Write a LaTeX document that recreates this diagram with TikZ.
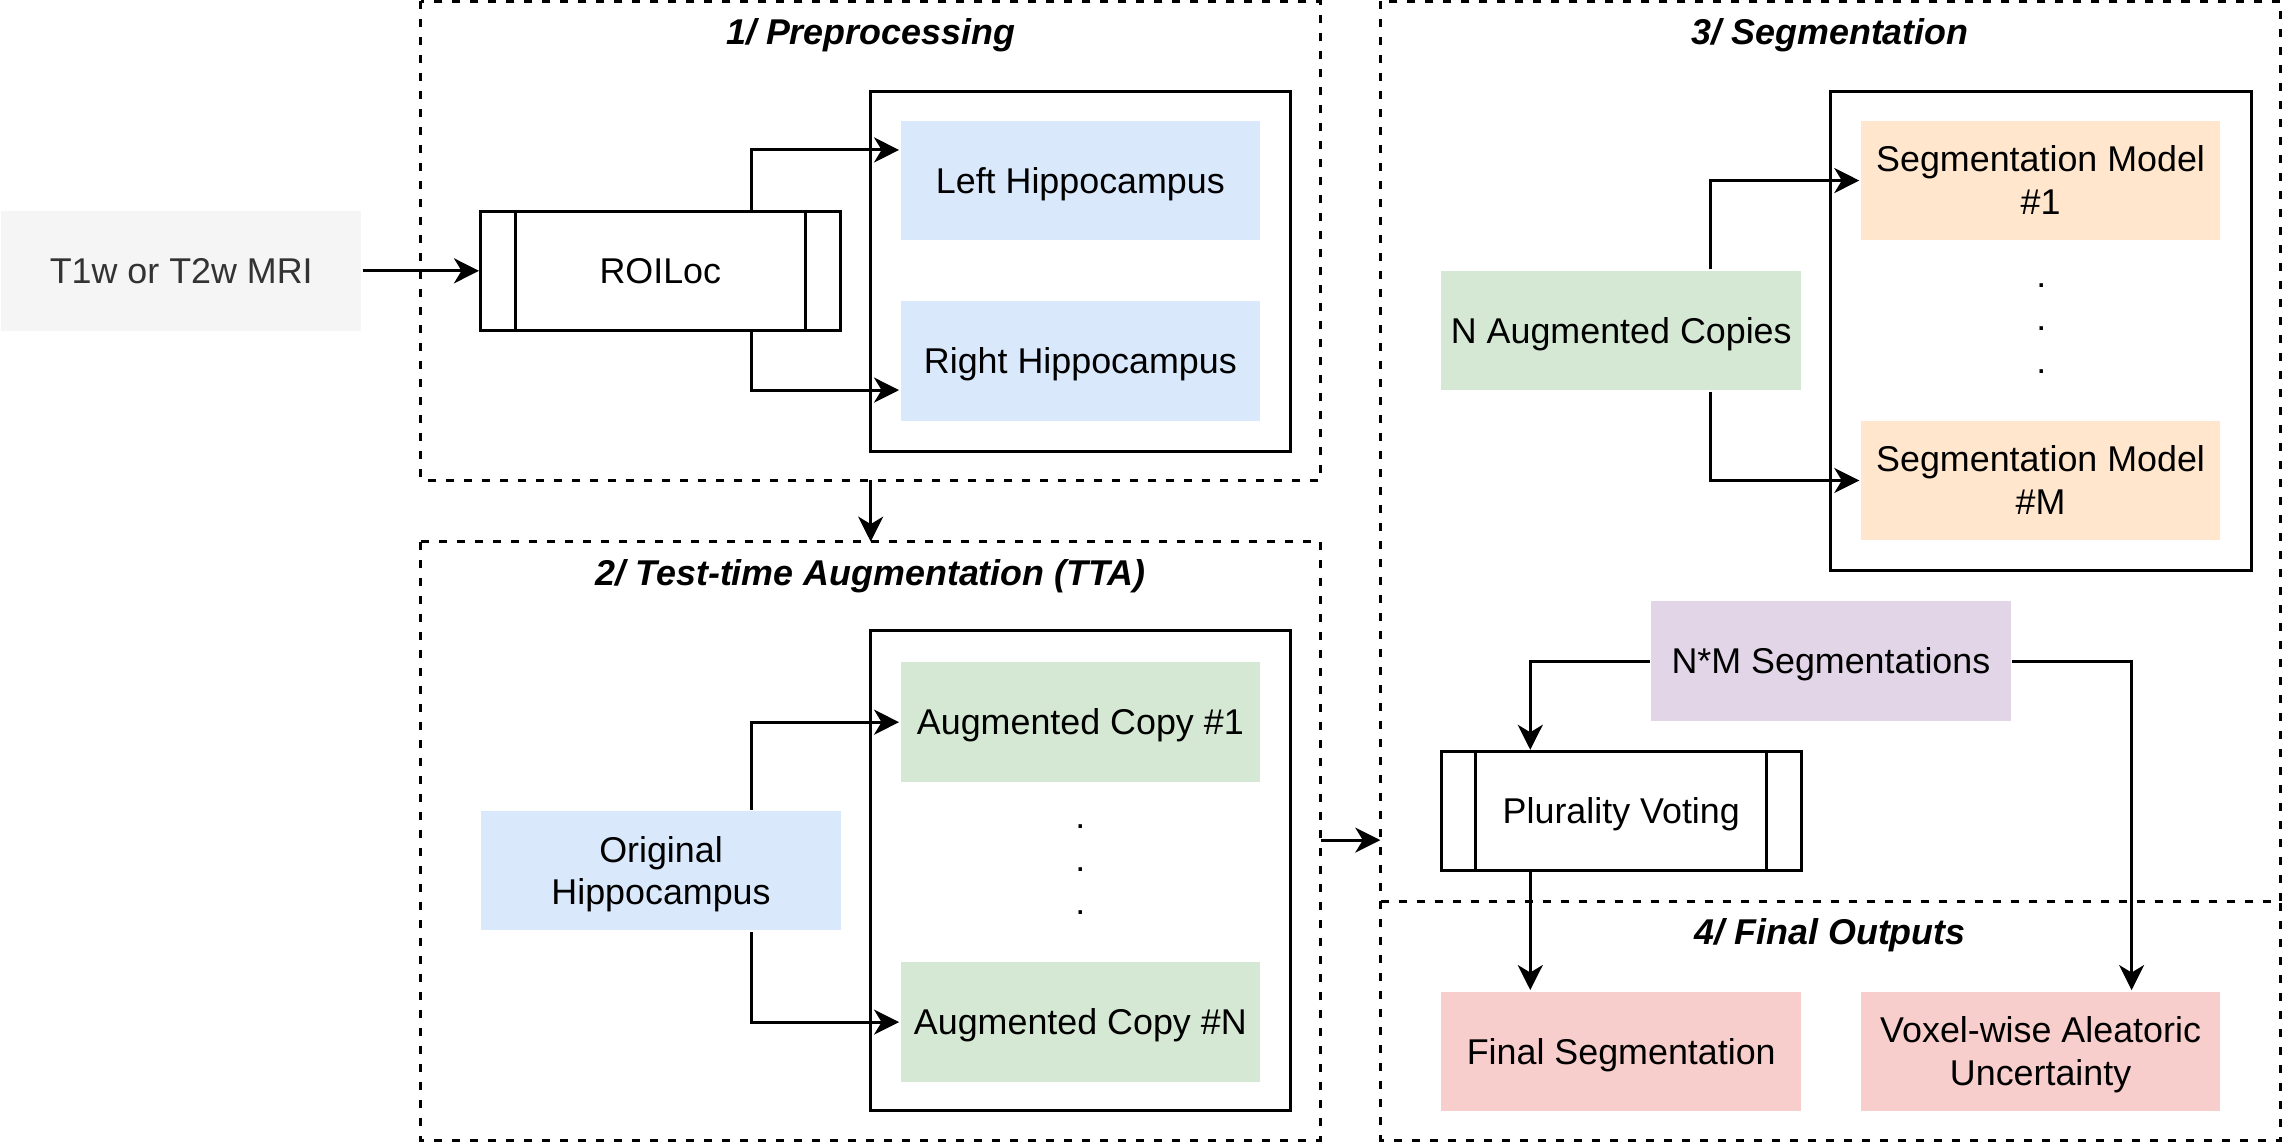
\documentclass[tikz,border=0pt]{standalone}
\usepackage{fontspec}
\setmainfont{Liberation Sans}
\usetikzlibrary{arrows.meta,calc}
\definecolor{cgray}{HTML}{F5F5F5}
\definecolor{cgtext}{HTML}{333333}
\definecolor{cblue}{HTML}{DAE8FC}
\definecolor{cgreen}{HTML}{D5E8D4}
\definecolor{corange}{HTML}{FFE6CC}
\definecolor{cpurple}{HTML}{E1D5E7}
\definecolor{cred}{HTML}{F8CECC}
\newcommand{\boxtext}[1]{\raisebox{-1.2pt}[\height][\depth]{\renewcommand{\arraystretch}{1}\begin{tabular}{@{}c@{}}#1\end{tabular}}}
\begin{document}
\begin{tikzpicture}[x=0.1456mm,y=-0.1456mm,
  line width=0.85pt,
  every node/.style={font=\fontsize{10.2pt}{12.2pt}\selectfont},
  box/.style={rectangle,minimum width=35.96mm,minimum height=11.94mm,inner sep=0pt},
  procbox/.style={box,draw=black},
  title/.style={inner sep=0pt,font=\fontsize{10.2pt}{12.2pt}\selectfont\bfseries\itshape},
  group/.style={draw=black,dash pattern=on 0.8mm off 1.0mm},
  inner/.style={draw=black},
  arr/.style={-{Stealth[length=2.5mm,width=2.5mm,inset=0.75mm]}},
  dots/.style={inner sep=0pt}
]
\useasboundingbox (0,0) rectangle (1568,785);

% groups
\draw[group] (289,1) rectangle (907,330);
\coordinate (p1) at (598,330);
\draw[group] (289,372) rectangle (907,783);
\coordinate (p2n) at (598,372);
\coordinate (p2e) at (907,577);
\draw[group] (948,1) rectangle (1566,619);
\coordinate (p3w) at (948,577);
\draw[group] (948,619) rectangle (1566,783);

\node[title] (t1) at (598,22) {\boxtext{1/ Preprocessing}};
\node[title] (t2) at (598,393) {\boxtext{2/ Test-time Augmentation (TTA)}};
\node[title] (t3) at (1257,22) {\boxtext{3/ Segmentation}};
\node[title] (t4) at (1257,640) {\boxtext{4/ Final Outputs}};

% inner boxes
\draw[inner] (598,63) rectangle (886,310);
\draw[inner] (598,433) rectangle (886,763);
\draw[inner] (1257,63) rectangle (1546,392);

% nodes
\node[box,fill=cgray,text=cgtext] (mri) at (124.5,186) {\boxtext{T1w or T2w MRI}};
\node[procbox] (roiloc) at (453.5,186) {\boxtext{ROILoc}};
\node[box,fill=cblue] (left) at (742,124) {\boxtext{Left Hippocampus}};
\node[box,fill=cblue] (right) at (742,248) {\boxtext{Right Hippocampus}};

\node[box,fill=cblue] (orig) at (454,598) {\boxtext{Original\\Hippocampus}};
\node[box,fill=cgreen] (aug1) at (742,496) {\boxtext{Augmented Copy \#1}};
\node[box,fill=cgreen] (augN) at (742,702) {\boxtext{Augmented Copy \#N}};
\node[dots] (d1) at (742,590) {\boxtext{.\\.\\.}};

\node[box,fill=cgreen] (ncopies) at (1113.5,227) {\boxtext{N Augmented Copies}};
\node[box,fill=corange] (seg1) at (1401.5,124) {\boxtext{Segmentation Model\\\#1}};
\node[box,fill=corange] (segM) at (1401.5,330) {\boxtext{Segmentation Model\\\#M}};
\node[dots] (d2) at (1402,218) {\boxtext{.\\.\\.}};

\node[box,fill=cpurple] (nm) at (1257.5,454) {\boxtext{N*M Segmentations}};
\node[procbox] (vote) at (1113.5,557) {\boxtext{Plurality Voting}};
\node[box,fill=cred] (final) at (1113.5,722) {\boxtext{Final Segmentation}};
\node[box,fill=cred] (voxel) at (1401.5,722) {\boxtext{Voxel-wise Aleatoric\\Uncertainty}};

% process box side lines
\foreach \n in {roiloc,vote}{
  \draw ([xshift=3.6mm]\n.north west) -- ([xshift=3.6mm]\n.south west);
  \draw ([xshift=-3.6mm]\n.north east) -- ([xshift=-3.6mm]\n.south east);
}

% branch x positions
\coordinate (xa) at (516,0);
\coordinate (xb) at (1175,0);
\coordinate (xc) at (1051,0);
\coordinate (xd) at (1464,0);

% connectors
\draw[arr] (mri.east) -- (roiloc.west);
\draw[arr] (roiloc.north -| xa) |- ([yshift=3.06mm]left.west);
\draw[arr] (roiloc.south -| xa) |- ([yshift=-2.9mm]right.west);
\draw[arr] (p1) -- (p2n);
\draw[arr] (orig.north -| xa) |- (aug1.west);
\draw[arr] (orig.south -| xa) |- (augN.west);
\draw[arr] (p2e) -- (p3w);
\draw[arr] (ncopies.north -| xb) |- (seg1.west);
\draw[arr] (ncopies.south -| xb) |- (segM.west);
\draw[arr] (nm.west) -| (vote.north -| xc);
\draw[arr] (vote.south -| xc) -- (final.north -| xc);
\draw[arr] (nm.east) -| (voxel.north -| xd);
\end{tikzpicture}
\end{document}
